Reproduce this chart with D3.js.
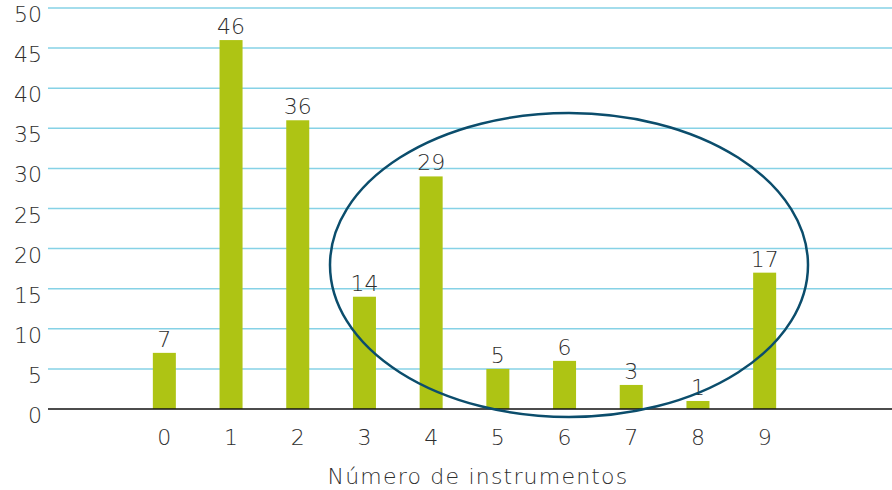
<!DOCTYPE html>
<html>
<head>
<meta charset="utf-8">
<script src="https://cdn.jsdelivr.net/npm/d3@7"></script>
<style>
  html, body { margin: 0; padding: 0; background: #fff; }
  svg text { font-family: "DejaVu Sans", "Open Sans", sans-serif; font-weight: 200; fill: #2e2e2e; }
</style>
</head>
<body>
<svg id="chart" width="892" height="490"></svg>
<script>
// Number of instruments used (categories) and count of cases for each
const categories = ["0", "1", "2", "3", "4", "5", "6", "7", "8", "9"];
const counts = [7, 46, 36, 14, 29, 5, 6, 3, 1, 17];
const yTicks = [0, 5, 10, 15, 20, 25, 30, 35, 40, 45, 50];
const xTitle = "Número de instrumentos";

const svg = d3.select("#chart");
const plotLeft = 48, plotRight = 892, plotTop = 8, plotBottom = 409;

const y = d3.scaleLinear().domain([0, 50]).range([plotBottom, plotTop]);
const x = d3.scaleBand()
  .domain(categories)
  .range([131, 798])
  .paddingInner(0.655)
  .paddingOuter(0.3275);

// horizontal gridlines
svg.append("g")
  .selectAll("line")
  .data(yTicks.filter(d => d > 0))
  .join("line")
  .attr("x1", plotLeft).attr("x2", plotRight)
  .attr("y1", d => y(d)).attr("y2", d => y(d))
  .attr("stroke", "#86d2e6")
  .attr("stroke-width", 1.5);

// y tick labels, set just below their gridlines
svg.append("g")
  .selectAll("text")
  .data(yTicks)
  .join("text")
  .attr("x", 42)
  .attr("y", d => y(d) + 14)
  .attr("text-anchor", "end")
  .style("font-size", "22px")
  .text(d => d);

// bars
svg.append("g")
  .selectAll("rect")
  .data(counts)
  .join("rect")
  .attr("x", (d, i) => x(categories[i]))
  .attr("width", x.bandwidth())
  .attr("y", d => y(d))
  .attr("height", d => y(0) - y(d))
  .attr("fill", "#aec414");

// value labels
svg.append("g")
  .selectAll("text")
  .data(counts)
  .join("text")
  .attr("x", (d, i) => x(categories[i]) + x.bandwidth() / 2)
  .attr("y", d => y(d) - 6)
  .attr("text-anchor", "middle")
  .style("font-size", "22px")
  .text(d => d);

// baseline
svg.append("line")
  .attr("x1", plotLeft).attr("x2", plotRight)
  .attr("y1", y(0)).attr("y2", y(0))
  .attr("stroke", "#111")
  .attr("stroke-width", 1.5);

// x tick labels
svg.append("g")
  .selectAll("text")
  .data(categories)
  .join("text")
  .attr("x", d => x(d) + x.bandwidth() / 2)
  .attr("y", 445)
  .attr("text-anchor", "middle")
  .style("font-size", "22px")
  .text(d => d);

// axis title
svg.append("text")
  .attr("x", 478)
  .attr("y", 484)
  .attr("text-anchor", "middle")
  .style("font-size", "22px")
  .style("letter-spacing", "1.2px")
  .text(xTitle);

// highlight ring around categories 3 to 9
svg.append("ellipse")
  .attr("cx", 569).attr("cy", 265)
  .attr("rx", 239).attr("ry", 152)
  .attr("fill", "none")
  .attr("stroke", "#0b4d6c")
  .attr("stroke-width", 2.5);
</script>
</body>
</html>
